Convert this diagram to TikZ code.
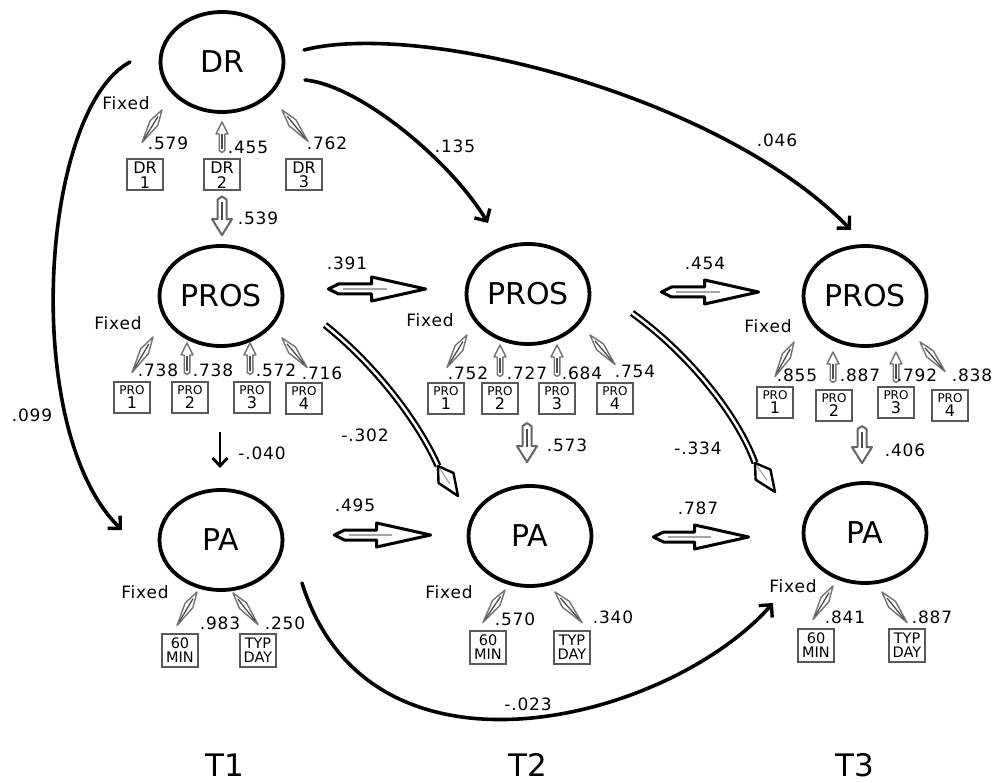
\documentclass[tikz,border=0pt]{standalone}
\usepackage{fontspec}
\setmainfont{DejaVu Sans}
\newfontfamily\numfont{DejaVu Sans}[LetterSpace=5]
\usetikzlibrary{calc,arrows.meta,shapes.geometric}

% hollow block arrow: #1 style, #2 back point, #3 tip, #4 shaft half width,
% #5 head half width, #6 head length, #7 taper length at the back
\newcommand\blockarrow[7][]{%
  \coordinate (ba-t) at ($(#2)!#7!(#3)$);
  \coordinate (ba-h) at ($(#3)!#6!(#2)$);
  \filldraw[#1] (#2) -- ($(ba-t)!#4!90:(#3)$) -- ($(ba-h)!#4!90:(#3)$)
     -- ($(ba-h)!#5!90:(#3)$) -- (#3) -- ($(ba-h)!#5!-90:(#3)$)
     -- ($(ba-h)!#4!-90:(#3)$) -- ($(ba-t)!#4!-90:(#3)$) -- cycle;
}
% thin spindle used for the loadings
\newcommand\spindle[2]{%
  \coordinate (sp-m) at ($(#1)!0.6!(#2)$);
  \filldraw[spin] (#1) -- ($(sp-m)!4.5pt!90:(#2)$) -- (#2) -- ($(sp-m)!4.5pt!-90:(#2)$) -- cycle;
  \draw[spincore] ($(#1)!0.12!(#2)$) -- ($(#1)!0.8!(#2)$);
}
% lens shaped head at the end of a double curve
\newcommand\kitehead[2]{%
  \coordinate (kt-m) at ($(#1)!0.4!(#2)$);
  \filldraw[fat, line width=2.4pt] (#1) -- ($(kt-m)!9pt!90:(#2)$) -- (#2) -- ($(kt-m)!9pt!-90:(#2)$) -- cycle;
  \draw[fatcore, line width=1.2pt] ($(#1)!0.1!(#2)$) -- ($(#1)!0.6!(#2)$);
}
\newcommand\protext[1]{{\fontsize{12}{11}\selectfont PRO}\\#1}

\begin{document}
\begin{tikzpicture}[x=1pt,y=-1pt,
  latent/.style={ellipse, draw, line width=3.8pt, minimum width=123pt, minimum height=100pt,
    inner sep=0pt, font=\fontsize{30}{32}\selectfont},
  ind/.style={draw=black!65, line width=2pt, minimum width=36pt, minimum height=31pt,
    inner sep=0pt, align=center, font=\fontsize{16}{14.5}\selectfont},
  indpa/.style={ind, minimum height=33pt, font=\fontsize{14.5}{14.5}\selectfont},
  coef/.style={font=\numfont\fontsize{17}{18}\selectfont, inner sep=0pt},
  tlab/.style={font=\fontsize{31}{33}\selectfont, inner sep=0pt},
  curvearrow/.style={line width=3.6pt, line cap=round,
    -{Straight Barb[length=9pt,width=18pt,line width=3.4pt]}},
  spin/.style={draw=black!55, line width=1.4pt, fill=white, line join=round},
  spincore/.style={draw=black!70, line width=1.3pt},
  fat/.style={draw=black, line width=3pt, fill=white, line join=round},
  fatcore/.style={draw=black!35, line width=1.6pt},
  grayblock/.style={draw=black!60, line width=2pt, fill=white, line join=round},
  smallblock/.style={draw=black!55, line width=1.4pt, fill=white, line join=round},
  dbl/.style={draw=black, line width=2.3pt, double=white, double distance=2.4pt}
]
\useasboundingbox (0,0) rectangle (998,783);

% latent variables
\node[latent] (dr)    at (222,62)  {DR};
\node[latent] (pros1) at (221,296) {PROS};
\node[latent] (pros2) at (528,294) {PROS};
\node[latent] (pros3) at (865,296) {PROS};
\node[latent] (pa1)   at (221,540) {PA};
\node[latent] (pa2)   at (530,536) {PA};
\node[latent] (pa3)   at (865,533) {PA};

% indicators
\node[ind] (dr1) at (145,175) {DR\\1};
\node[ind] (dr2) at (222,175) {DR\\2};
\node[ind] (dr3) at (304,175) {DR\\3};
\node[ind] (p11) at (132,397) {\protext{1}};
\node[ind] (p12) at (190,397) {\protext{2}};
\node[ind] (p13) at (252,397) {\protext{3}};
\node[ind] (p14) at (304,398) {\protext{4}};
\node[ind] (p21) at (446,398) {\protext{1}};
\node[ind] (p22) at (500,398) {\protext{2}};
\node[ind] (p23) at (557,398) {\protext{3}};
\node[ind] (p24) at (615,398) {\protext{4}};
\node[ind] (p31) at (775,402) {\protext{1}};
\node[ind] (p32) at (834,405) {\protext{2}};
\node[ind] (p33) at (896,402) {\protext{3}};
\node[ind] (p34) at (950,405) {\protext{4}};
\node[indpa] (m1) at (180,650) {60\\MIN};
\node[indpa] (d1) at (258,650) {TYP\\DAY};
\node[indpa] (m2) at (488,647) {60\\MIN};
\node[indpa] (d2) at (572,647) {TYP\\DAY};
\node[indpa] (m3) at (816,645) {60\\MIN};
\node[indpa] (d3) at (907,645) {TYP\\DAY};

% loadings: spindles (diagonal) and small block arrows (vertical)
\coordinate (ldr1a) at ($(dr1.north)+(-3,-16)$); \coordinate (ldr1b) at ($(dr)+(-60,48)$);
\spindle{ldr1a}{ldr1b}
\coordinate (ldr2a) at ($(dr2.north)+(0,-6)$);   \coordinate (ldr2b) at ($(dr)+(0,60)$);
\blockarrow[smallblock]{ldr2a}{ldr2b}{2.8pt}{6pt}{12pt}{2pt}
\draw[spincore] ($(ldr2a)!0.1!(ldr2b)$) -- ($(ldr2a)!0.6!(ldr2b)$);
\coordinate (ldr3a) at ($(dr3.north)+(4,-17)$);  \coordinate (ldr3b) at ($(dr)+(60,48)$);
\spindle{ldr3a}{ldr3b}

\coordinate (l11a) at ($(p11.north)+(0,-8)$);  \coordinate (l11b) at ($(pros1)+(-68,41)$);
\spindle{l11a}{l11b}
\coordinate (l12a) at ($(p12.north)+(-3,-6)$); \coordinate (l12b) at ($(pros1)+(-34,47)$);
\blockarrow[smallblock]{l12a}{l12b}{2.8pt}{6pt}{12pt}{2pt}
\draw[spincore] ($(l12a)!0.1!(l12b)$) -- ($(l12a)!0.6!(l12b)$);
\coordinate (l13a) at ($(p13.north)+(-2,-6)$); \coordinate (l13b) at ($(pros1)+(29,47)$);
\blockarrow[smallblock]{l13a}{l13b}{2.8pt}{6pt}{12pt}{2pt}
\draw[spincore] ($(l13a)!0.1!(l13b)$) -- ($(l13a)!0.6!(l13b)$);
\coordinate (l14a) at ($(p14.north)+(3,-14)$); \coordinate (l14b) at ($(pros1)+(61,42)$);
\spindle{l14a}{l14b}

\coordinate (l21a) at ($(p21.north)+(1,-14)$); \coordinate (l21b) at ($(pros2)+(-61,41)$);
\spindle{l21a}{l21b}
\coordinate (l22a) at ($(p22.north)+(0,-5)$);  \coordinate (l22b) at ($(pros2)+(-28,51)$);
\blockarrow[smallblock]{l22a}{l22b}{2.8pt}{6pt}{12pt}{2pt}
\draw[spincore] ($(l22a)!0.1!(l22b)$) -- ($(l22a)!0.6!(l22b)$);
\coordinate (l23a) at ($(p23.north)+(0,-5)$);  \coordinate (l23b) at ($(pros2)+(29,51)$);
\blockarrow[smallblock]{l23a}{l23b}{2.8pt}{6pt}{12pt}{2pt}
\draw[spincore] ($(l23a)!0.1!(l23b)$) -- ($(l23a)!0.6!(l23b)$);
\coordinate (l24a) at ($(p24.north)+(0,-17)$); \coordinate (l24b) at ($(pros2)+(62,41)$);
\spindle{l24a}{l24b}

\coordinate (l31a) at ($(p31.north)+(0,-9)$);  \coordinate (l31b) at ($(pros3)+(-71,46)$);
\spindle{l31a}{l31b}
\coordinate (l32a) at ($(p32.north)+(-1,-6)$); \coordinate (l32b) at ($(pros3)+(-32,56)$);
\blockarrow[smallblock]{l32a}{l32b}{2.8pt}{6pt}{12pt}{2pt}
\draw[spincore] ($(l32a)!0.1!(l32b)$) -- ($(l32a)!0.6!(l32b)$);
\coordinate (l33a) at ($(p33.north)+(0,-3)$);  \coordinate (l33b) at ($(pros3)+(31,56)$);
\blockarrow[smallblock]{l33a}{l33b}{2.8pt}{6pt}{12pt}{2pt}
\draw[spincore] ($(l33a)!0.1!(l33b)$) -- ($(l33a)!0.6!(l33b)$);
\coordinate (l34a) at ($(p34.north)+(-5,-17)$); \coordinate (l34b) at ($(pros3)+(55,46)$);
\spindle{l34a}{l34b}

\coordinate (lm1a) at ($(m1.north)+(-3,-7)$);  \coordinate (lm1b) at ($(pa1)+(-24,52)$);
\spindle{lm1a}{lm1b}
\coordinate (ld1a) at ($(d1.north)+(0,-8)$);   \coordinate (ld1b) at ($(pa1)+(12,53)$);
\spindle{ld1a}{ld1b}
\coordinate (lm2a) at ($(m2.north)+(-5,-7)$);  \coordinate (lm2b) at ($(pa2)+(-25,54)$);
\spindle{lm2a}{lm2b}
\coordinate (ld2a) at ($(d2.north)+(10,-7)$);  \coordinate (ld2b) at ($(pa2)+(25,56)$);
\spindle{ld2a}{ld2b}
\coordinate (lm3a) at ($(m3.north)+(-3,-8)$);  \coordinate (lm3b) at ($(pa3)+(-32,53)$);
\spindle{lm3a}{lm3b}
\coordinate (ld3a) at ($(d3.north)+(0,-5)$);   \coordinate (ld3b) at ($(pa3)+(17,59)$);
\spindle{ld3a}{ld3b}

% gray block arrows between a latent's indicators and the next latent
\coordinate (g539a) at ($(dr2.south)+(0,5)$);  \coordinate (g539b) at ($(pros1.north)+(1,-9)$);
\blockarrow[grayblock]{g539a}{g539b}{4.5pt}{10pt}{16pt}{3pt}
\draw[spincore] ($(g539a)!0.15!(g539b)$) -- ($(g539a)!0.6!(g539b)$);
\coordinate (g573a) at ($(pa2.north)+(-3,-61)$); \coordinate (g573b) at ($(pa2.north)+(-3,-22)$);
\blockarrow[grayblock]{g573a}{g573b}{4.5pt}{10pt}{16pt}{3pt}
\draw[spincore] ($(g573a)!0.15!(g573b)$) -- ($(g573a)!0.6!(g573b)$);
\coordinate (g406a) at ($(pa3.north)+(-3,-55)$); \coordinate (g406b) at ($(pa3.north)+(-3,-18)$);
\blockarrow[grayblock]{g406a}{g406b}{4.5pt}{10pt}{16pt}{3pt}
\draw[spincore] ($(g406a)!0.15!(g406b)$) -- ($(g406a)!0.6!(g406b)$);

% autoregressive block arrows
\coordinate (f391a) at ($(pros1.east)+(44,-7)$); \coordinate (f391b) at ($(pros2.west)+(-39,-5)$);
\blockarrow[fat]{f391a}{f391b}{5pt}{12pt}{54pt}{10pt}
\draw[fatcore] ($(f391a)!0.15!(f391b)$) -- ($(f391a)!0.6!(f391b)$);
\coordinate (f454a) at ($(pros2.east)+(70,-2)$); \coordinate (f454b) at ($(pros3.west)+(-43,-4)$);
\blockarrow[fat]{f454a}{f454b}{5pt}{12pt}{54pt}{10pt}
\draw[fatcore] ($(f454a)!0.15!(f454b)$) -- ($(f454a)!0.6!(f454b)$);
\coordinate (f495a) at ($(pa1.east)+(50,-5)$);   \coordinate (f495b) at ($(pa2.west)+(-36,-1)$);
\blockarrow[fat]{f495a}{f495b}{5pt}{12pt}{54pt}{10pt}
\draw[fatcore] ($(f495a)!0.15!(f495b)$) -- ($(f495a)!0.6!(f495b)$);
\coordinate (f787a) at ($(pa2.east)+(60,1)$);    \coordinate (f787b) at ($(pa3.west)+(-53,4)$);
\blockarrow[fat]{f787a}{f787b}{5pt}{12pt}{54pt}{10pt}
\draw[fatcore] ($(f787a)!0.15!(f787b)$) -- ($(f787a)!0.6!(f787b)$);

% cross-lagged double curves
\coordinate (k302a) at ($(pros1)+(104,29)$);
\coordinate (k302h) at ($(pa2)+(-92,-70)$);
\coordinate (k302t) at ($(pa2)+(-72,-40)$);
\draw[dbl] (k302a) .. controls +(50,40) and +(-20,-45) .. (k302h);
\kitehead{k302h}{k302t}
\coordinate (k334a) at ($(pros2)+(104,19)$);
\coordinate (k334h) at ($(pa3)+(-110,-70)$);
\coordinate (k334t) at ($(pa3)+(-90,-41)$);
\draw[dbl] (k334a) .. controls +(58,42) and +(-17,-47) .. (k334h);
\kitehead{k334h}{k334t}

% long-range paths
\coordinate (c099a) at ($(dr)+(-92,0)$);    \coordinate (c099b) at ($(pa1)+(-99,-10)$);
\draw[curvearrow] (c099a) .. controls +(-90,48) and +(-102,-100) .. (c099b);
\coordinate (c135a) at ($(dr)+(83,18)$);    \coordinate (c135b) at ($(pros2)+(-40,-71)$);
\draw[curvearrow] (c135a) .. controls +(54,5) and +(-38,-63) .. (c135b);
\coordinate (c046a) at ($(dr)+(82,-12)$);   \coordinate (c046b) at ($(pros3)+(-14,-66)$);
\draw[curvearrow] (c046a) .. controls +(116,-30) and +(-131,-135) .. (c046b);
\coordinate (c023a) at ($(pa1)+(81,43)$);   \coordinate (c023b) at ($(pa3)+(-92,70)$);
\draw[curvearrow] (c023a) .. controls +(68,217) and +(-103,117) .. (c023b);
\coordinate (c040a) at ($(pros1)+(-1,136)$); \coordinate (c040b) at ($(pa1)+(-1,-72)$);
\draw[line width=2.8pt, -{Straight Barb[length=8pt,width=15pt,line width=2.8pt]}] (c040a) -- (c040b);

% "Fixed" marks
\node[coef] (fx0) at (126,103) {Fixed};
\node[coef] (fx1) at (118,323) {Fixed};
\node[coef] (fx2) at (430,320) {Fixed};
\node[coef] (fx3) at (768,326) {Fixed};
\node[coef] (fx4) at (145,592) {Fixed};
\node[coef] (fx5) at (449,592) {Fixed};
\node[coef] (fx6) at (793,586) {Fixed};

% loading estimates
\node[coef] (e1)  at (168,143) {.579};
\node[coef] (e2)  at (248,147) {.455};
\node[coef] (e3)  at (327,143) {.762};
\node[coef] (e4)  at (158,370) {.738};
\node[coef] (e5)  at (213,370) {.738};
\node[coef] (e6)  at (276,370) {.572};
\node[coef] (e7)  at (322,373) {.716};
\node[coef] (e8)  at (468,373) {.752};
\node[coef] (e9)  at (527,373) {.727};
\node[coef] (e10) at (582,373) {.684};
\node[coef] (e11) at (635,371) {.754};
\node[coef] (e12) at (797,375) {.855};
\node[coef] (e13) at (860,375) {.887};
\node[coef] (e14) at (917,375) {.792};
\node[coef] (e15) at (972,375) {.838};
\node[coef] (e16) at (220,623) {.983};
\node[coef] (e17) at (285,623) {.250};
\node[coef] (e18) at (515,619) {.570};
\node[coef] (e19) at (613,617) {.340};
\node[coef] (e20) at (845,617) {.841};
\node[coef] (e21) at (932,617) {.887};

% path estimates
\node[coef] (s1)  at (258,218) {.539};
\node[coef] (s2)  at (347,263) {.391};
\node[coef] (s3)  at (705,263) {.454};
\node[coef] (s4)  at (355,505) {.495};
\node[coef] (s5)  at (698,508) {.787};
\node[coef] (s6)  at (567,445) {.573};
\node[coef] (s7)  at (905,450) {.406};
\node[coef] (s8)  at (262,453) {-.040};
\node[coef] (s9)  at (365,435) {-.302};
\node[coef] (s10) at (698,448) {-.334};
\node[coef] (s11) at (32,415)  {.099};
\node[coef] (s12) at (455,146) {.135};
\node[coef] (s13) at (777,140) {.046};
\node[coef] (s14) at (528,704) {-.023};

% waves
\node[tlab] (t1) at (225,765) {T1};
\node[tlab] (t2) at (528,765) {T2};
\node[tlab] (t3) at (855,765) {T3};
\end{tikzpicture}
\end{document}
